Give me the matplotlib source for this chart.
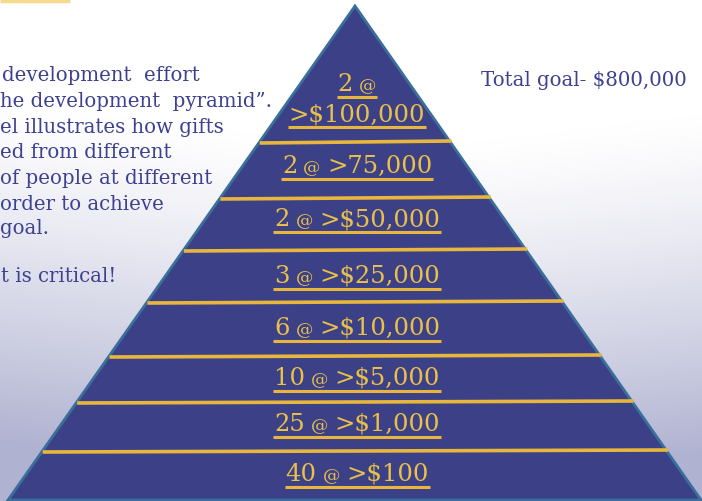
#!/usr/bin/env python3
"""
Development pyramid: donor tiers needed to reach the campaign goal.
"""

import numpy as np
import matplotlib
matplotlib.use('Agg')
import matplotlib.pyplot as plt
from matplotlib.patches import Polygon

# --- content ---
donor_counts = [2, 2, 2, 3, 6, 10, 25, 40]
gift_levels = ['>$100,000', '>75,000', '>$50,000', '>$25,000',
               '>$10,000', '>$5,000', '>$1,000', '>$100']
goal_text = 'Total goal- $800,000'
intro_lines = ['development  effort',
               'he development  pyramid\u201d.',
               'el illustrates how gifts',
               'ed from different',
               'of people at different',
               'order to achieve',
               'goal.',
               't is critical!']

# --- layout (pixels, y downwards) ---
W, H = 702, 501
apex = (355, 6)
base_y, base_left, base_right = 500, 8, 701
separator_y = [142, 198, 250, 302, 356, 402, 451]
label_baseline = [121, 173, 226, 283, 335, 385, 431, 481]
intro_y = [75, 101, 127, 152, 179, 204, 229, 277]
intro_x = [2, 0, 0, 0, 0, 0, 0, 1]

NAVY = '#3c4187'
EDGE = '#3a6f9c'
GOLD = '#e8b63c'
LABEL = '#e9c04a'
TEXT = '#3d4190'
FONT = 'DejaVu Serif'
FS = 17.5
AT_FS = 12.5
SIDE_FS = 14.2


def edge_x(y):
    """Left and right x of the pyramid at height y."""
    f = (y - apex[1]) / (base_y - apex[1])
    return (apex[0] + (base_left - apex[0]) * f,
            apex[0] + (base_right - apex[0]) * f)


def draw_label(ax, renderer, xc, y, parts):
    """Draw text pieces side by side, centred on xc, underlined."""
    texts, widths = [], []
    for s, fs in parts:
        t = ax.text(0, y, s, fontsize=fs, family=FONT, color=LABEL,
                    ha='left', va='baseline')
        texts.append(t)
        widths.append(t.get_window_extent(renderer).width)
    gap = FS * 0.35
    total = sum(widths) + gap * (len(parts) - 1)
    x = xc - total / 2
    for t, w in zip(texts, widths):
        t.set_x(x)
        x += w + gap
    ax.plot([xc - total / 2 - 1, xc + total / 2 + 1], [y + 6, y + 6],
            color=GOLD, lw=2.2, solid_capstyle='butt')


fig = plt.figure(figsize=(W / 100, H / 100), dpi=100)
ax = fig.add_axes([0, 0, 1, 1])
ax.set_xlim(0, W)
ax.set_ylim(H, 0)
ax.axis('off')

# background: white fading to lavender towards the bottom
yy, xx = np.mgrid[0:H, 0:W]
t = np.clip((yy - 150 + 0.12 * np.abs(xx - 400)) / 340.0, 0, 1) ** 1.25
top = np.array([1.0, 1.0, 1.0])
bottom = np.array([0.69, 0.70, 0.82])
bg = top[None, None, :] * (1 - t[..., None]) + bottom[None, None, :] * t[..., None]
ax.imshow(bg, extent=[0, W, H, 0], zorder=0, aspect='auto')

# small yellow rule at the top-left corner
ax.plot([0, 70], [0.8, 0.8], color='#f6da8e', lw=2.5, solid_capstyle='butt')

# pyramid
tri = Polygon([apex, (base_right, base_y), (base_left, base_y)], closed=True,
              facecolor=NAVY, edgecolor=EDGE, lw=2, zorder=2)
ax.add_patch(tri)

for y in separator_y:
    xl, _ = edge_x(y + 1)
    _, xr = edge_x(y - 1)
    ax.plot([xl + 1, xr + 2], [y + 1, y - 1], color=GOLD, lw=2.6,
            solid_capstyle='butt', zorder=3)

fig.canvas.draw()
renderer = fig.canvas.get_renderer()

xc = 357
for i, (n, level) in enumerate(zip(donor_counts, gift_levels)):
    if i == 0:
        draw_label(ax, renderer, xc, label_baseline[0] - 30,
                   [(str(n), FS), ('@', AT_FS)])
        draw_label(ax, renderer, xc, label_baseline[0], [(level, FS)])
    else:
        draw_label(ax, renderer, xc, label_baseline[i],
                   [(str(n), FS), ('@', AT_FS), (level, FS)])

# side texts
for s, x, y in zip(intro_lines, intro_x, intro_y):
    ax.text(x, y, s, fontsize=SIDE_FS, family=FONT, color=TEXT,
            ha='left', va='center')
ax.text(481, 80, goal_text, fontsize=SIDE_FS, family=FONT, color=TEXT,
        ha='left', va='center')

fig.savefig('out.png', dpi=100)
